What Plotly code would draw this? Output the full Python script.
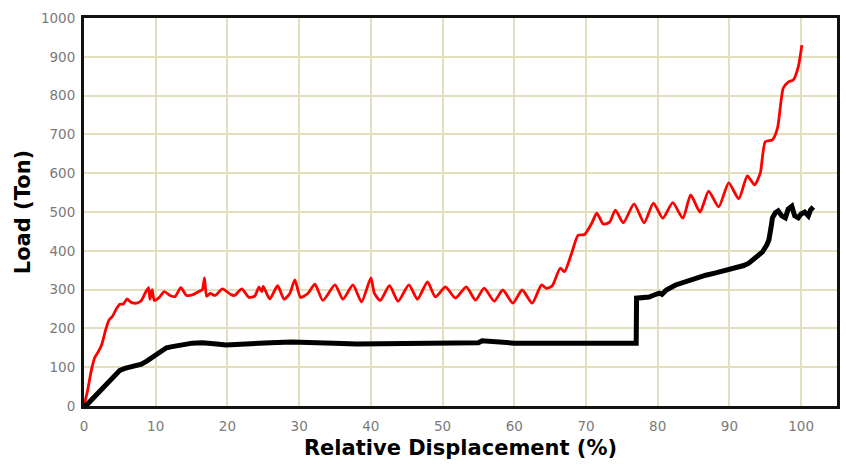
import plotly.graph_objects as go

# Red curve (Load vs relative displacement)
red_x = [0, 0.5, 1, 1.5, 2, 2.5, 3, 3.5, 4, 4.5, 5, 5.5, 6, 6.5, 7, 7.5, 8, 8.5, 9, 9.2, 9.5, 9.8,
         10.5, 11.2, 12, 12.7, 13.5, 14.3, 15.2, 16, 16.5, 16.8, 17.1, 17.6, 18.3, 19.3, 20.5, 21,
         22, 23, 23.8, 24.4, 24.8, 25, 25.9, 27, 27.9, 28.7, 29.4, 30.2, 31.2, 32.2, 33.3, 35,
         36.1, 37.5, 38.7, 40, 40.5, 41.3, 42.6, 43.8, 45.3, 46.5, 47.9, 49.0, 50.4, 51.8, 53.3,
         54.6, 55.8, 57.2, 58.4, 59.8, 61.1, 62.5, 63.8, 64.5, 65.3, 66.4, 67.0, 68.0, 68.9, 69.8,
         70.8, 71.5, 72.4, 73.3, 74.1, 75.2, 76.7, 78.1, 79.4, 80.7, 82.1, 83.5, 84.6, 85.9, 87.1,
         88.5, 89.9, 91.3, 92.5, 93.5, 94.3, 95.0, 96.0, 96.7, 97.5, 98.2, 98.9, 99.6, 100.1]
red_y = [0, 40, 90, 125, 140, 160, 195, 222, 232, 250, 262, 263, 276, 268, 265, 266, 272, 290, 305, 275, 300, 272,
         280, 295, 285, 282, 305, 285, 287, 295, 300, 330, 283, 290, 285, 302, 287, 285,
         302, 280, 283, 306, 295, 308, 276, 310, 275, 290, 325, 280, 290, 314, 272, 312,
         275, 312, 268, 330, 290, 272, 310, 270, 312, 275, 320, 281, 307, 278, 307,
         273, 304, 270, 299, 265, 299, 265, 312, 303, 310, 355, 346, 394, 440, 442,
         471, 497, 469, 474, 505, 472, 521, 472, 523, 484, 524, 484, 544, 500, 554,
         513, 575, 534, 593, 570, 600, 681, 686, 716, 819, 835, 840, 874, 930]

# Black curve
black_x = [0, 0.4, 1, 2.2, 3, 4, 5, 5.7, 6.5, 7.3, 8, 8.7, 9.5, 10.1, 11, 11.5, 12.3, 13.3, 14.2, 15.1,
           16.5, 17.5, 18.5, 19.8, 20.5, 22.1, 24, 26, 29, 31, 33.7, 36, 38, 40, 45, 50, 55, 55.5,
           56.5, 60, 65, 70, 75, 77, 77.05, 78.8, 79.5, 80.2, 80.6, 81.2, 82.5, 84, 85.3, 86.7, 88.1,
           89.5, 90.9, 92, 92.7, 93.5, 94.6, 95.2, 95.5, 95.8, 96.0, 96.4, 96.8, 97.3, 97.8, 98.2,
           98.7, 99.1, 99.6, 100.0, 100.5, 101, 101.3, 101.7]
black_y = [0, 3, 15, 38, 55, 75, 92, 97, 100, 104, 108, 115, 124, 132, 143, 150, 153, 157, 159, 162,
           163, 163, 160, 157, 158, 160, 162, 163, 165, 163, 162, 161, 160, 160, 161, 162, 163, 168,
           166, 162, 162, 162, 162, 162, 278, 281, 286, 291, 288, 299, 312, 322, 330, 337, 343,
           349, 356, 362, 368, 380, 397, 415, 428, 460, 485, 498, 503, 490, 485, 508,
           515, 490, 485, 495, 500, 490, 505, 513]

x_ticks = [0, 10, 20, 30, 40, 50, 60, 70, 80, 90, 100]
y_ticks = [0, 100, 200, 300, 400, 500, 600, 700, 800, 900, 1000]

fig = go.Figure()
fig.add_trace(go.Scatter(x=red_x, y=red_y, mode="lines",
                         line=dict(color="#ff0000", width=2.8, shape="spline", smoothing=0.6),
                         showlegend=False))
fig.add_trace(go.Scatter(x=black_x, y=black_y, mode="lines",
                         line=dict(color="#000000", width=5),
                         showlegend=False))

grid_col = "#e3dfbd"
tick_font = dict(family="DejaVu Sans, sans-serif", size=13.5, color="#7a7a7a")
title_font = dict(family="DejaVu Sans, sans-serif", size=21, color="#000000")

fig.update_layout(
    width=846, height=465,
    margin=dict(l=84, r=6, t=18, b=59),
    paper_bgcolor="white", plot_bgcolor="white",
    xaxis=dict(range=[0, 105], tickvals=x_ticks, ticktext=[str(v) for v in x_ticks],
               showgrid=True, gridcolor=grid_col, gridwidth=2, zeroline=False,
               showline=True, linecolor="#111111", linewidth=3, mirror=True,
               ticks="outside", ticklen=6, tickcolor="rgba(0,0,0,0)", tickfont=tick_font,
               title=dict(text="<b>Relative Displacement (%)</b>", font=title_font, standoff=8)),
    yaxis=dict(range=[0, 1000], tickvals=y_ticks, ticktext=[str(v) for v in y_ticks],
               showgrid=True, gridcolor=grid_col, gridwidth=2, zeroline=False,
               showline=True, linecolor="#111111", linewidth=3, mirror=True,
               ticks="outside", ticklen=3, tickcolor="rgba(0,0,0,0)", tickfont=tick_font,
               title=dict(text="<b>Load (Ton)</b>", font=title_font, standoff=5)),
)

fig.write_html("out.html")
